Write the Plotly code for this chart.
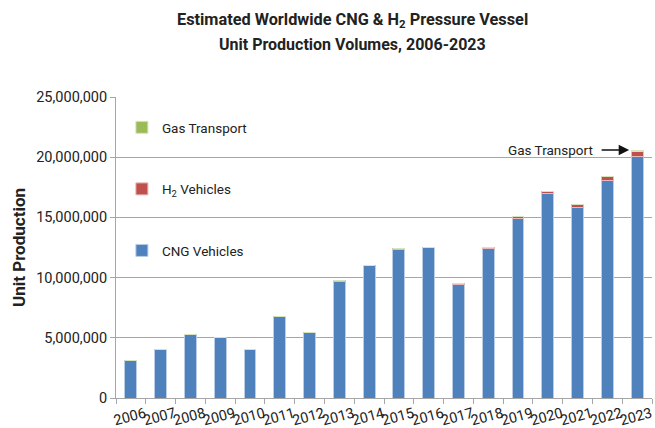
import plotly.graph_objects as go

# data
years = [str(y) for y in range(2006, 2024)]
cng = [3.13e6, 4.04e6, 5.3e6, 5.05e6, 4.0e6, 6.8e6, 5.45e6, 9.7e6, 11.0e6, 12.35e6,
       12.5e6, 9.42e6, 12.38e6, 14.9e6, 17.0e6, 15.85e6, 18.1e6, 20.1e6]
h2 = [0, 0, 0, 0, 0, 0, 0, 0.04e6, 0.04e6, 0.07e6,
      0.04e6, 0.1e6, 0.12e6, 0.16e6, 0.18e6, 0.25e6, 0.3e6, 0.4e6]
gas = [0, 0, 0, 0, 0, 0, 0, 0, 0, 0,
       0, 0, 0, 0, 0, 0, 0.02e6, 0.06e6]

font = "Roboto, sans-serif"

fig = go.Figure()
# stacked bars
fig.add_trace(go.Bar(x=years, y=cng, name='CNG Vehicles', legendgroup='a', legendrank=3,
                     marker=dict(color='#4F81BD', line=dict(color='#B9CDE5', width=1))))
fig.add_trace(go.Bar(x=years, y=h2, name='H<sub>2</sub> Vehicles', legendgroup='b', legendrank=2,
                     marker=dict(color='#C0504D', line=dict(color='#E6B9B8', width=1))))
fig.add_trace(go.Bar(x=years, y=gas, name='Gas Transport', legendgroup='c', legendrank=1,
                     marker=dict(color='#9BBB59', line=dict(color='#D7E4BD', width=1))))

fig.update_layout(
    barmode='stack',
    bargap=0.6,
    width=655, height=428,
    margin=dict(l=116, r=3, t=97, b=30),
    plot_bgcolor='white', paper_bgcolor='white',
    font=dict(family=font, size=14.5, color='#222222'),
    legend=dict(x=0.011, y=0.95, xanchor='left', yanchor='top',
                traceorder='grouped', tracegroupgap=41,
                bgcolor='rgba(0,0,0,0)', font=dict(size=13.5),
                itemwidth=30),
    yaxis=dict(range=[0, 25e6], dtick=5e6, tickformat=',d', automargin=False,
               showgrid=True, gridcolor='#A6A6A6', gridwidth=1,
               showline=True, linecolor='#A6A6A6', ticks='outside',
               ticklen=5, tickcolor='#A6A6A6', zeroline=False,
               title=dict(text='<b>Unit Production</b>', font=dict(size=17), standoff=6)),
    xaxis=dict(type='category', range=[-0.5, 17.5], autorange=False, automargin=False,
               showline=True, linecolor='#A6A6A6', ticks='outside',
               tickson='boundaries', ticklen=5, tickcolor='#A6A6A6',
               tickangle=-15, tickfont=dict(size=14.5),
               ticklabelshift=14, ticklabelstandoff=1),
)

# two-line title
fig.add_annotation(xref='paper', yref='paper', x=0.442, y=1 + 77/301,
                   text='<b>Estimated Worldwide CNG & H<sub>2</sub> Pressure Vessel</b>',
                   showarrow=False, yanchor='middle', font=dict(size=16.3))
fig.add_annotation(xref='paper', yref='paper', x=0.442, y=1 + 52/301,
                   text='<b>Unit Production Volumes, 2006-2023</b>',
                   showarrow=False, yanchor='middle', font=dict(size=16))

# arrow pointing to the top of 2023
fig.add_annotation(x=17, y=20.6e6, xref='x', yref='y', text=' ', showarrow=True,
                   arrowhead=2, arrowsize=1.6, arrowwidth=1.3, arrowcolor='#111111',
                   standoff=8, ax=-39, ay=0, axref='pixel', ayref='pixel')
fig.add_annotation(x=17, y=20.6e6, xref='x', yref='y', text='Gas Transport', showarrow=False,
                   xanchor='right', xshift=-42, font=dict(size=13.5, color='#222222'))

fig.write_html("out.html", config={'displayModeBar': False},
               post_script="document.body.style.margin='0';")
